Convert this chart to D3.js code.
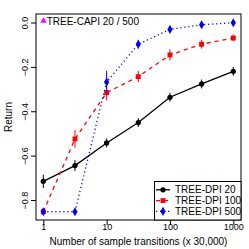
<!DOCTYPE html>
<html><head><meta charset="utf-8">
<script src="https://cdn.jsdelivr.net/npm/d3@7"></script>
<style>body{margin:0;background:#fff}svg{display:block}text{font-family:"Liberation Sans",Arial,sans-serif;fill:#000}</style>
</head><body>
<svg id="c" width="249" height="249"></svg>
<script>
const xVals = [1, 3.162, 10, 31.62, 100, 316.2, 1000];
const dpi20 = [-0.716, -0.645, -0.543, -0.451, -0.337, -0.277, -0.220];
const dpi20Err = [0.03, 0.025, 0.02, 0.02, 0.02, 0.02, 0.02];
const dpi100 = [-0.853, -0.525, -0.316, -0.244, -0.146, -0.098, -0.070];
const dpi100Err = [0.01, 0.04, 0.035, 0.025, 0.025, 0.02, 0.015];
const dpi500 = [-0.853, -0.853, -0.268, -0.098, -0.031, -0.010, -0.001];
const dpi500Err = [0.005, 0.005, 0.05, 0.02, 0.01, 0.01, 0.01];
const xTicks = [1, 10, 100, 1000];
const yTicks = [0, -0.2, -0.4, -0.6, -0.8];
const seriesNames = ["TREE-DPI 20", "TREE-DPI 100", "TREE-DPI 500"];
const capiLabel = "TREE-CAPI 20 / 500";

const svg = d3.select("#c");
const box = {l:36, r:241, t:14, b:220};
const x = d3.scaleLog().domain([1,1000]).range([43.3,233.3]);
const y = d3.scaleLinear().domain([0,-0.8]).range([22.5,200]);
const fmt = v => (v===0?"0.0":d3.format(".1f")(v)).replace("-","\u2212");
const tickFS = 9, labFS = 10, legFS = 10;

const series = [
  {name:seriesNames[0], v:dpi20, e:dpi20Err, color:"#000000", dash:null, shape:"circle"},
  {name:seriesNames[1], v:dpi100, e:dpi100Err, color:"#FF0000", dash:"4,4", shape:"square"},
  {name:seriesNames[2], v:dpi500, e:dpi500Err, color:"#0000FF", dash:"1.2,2.8", shape:"diamond"}
];
const sym = {circle:d3.symbol(d3.symbolCircle,22), square:d3.symbol(d3.symbolSquare,24), diamond:d3.symbol(d3.symbolDiamond,24)};

// axes
const xa = svg.append("g").attr("transform",`translate(0,${box.b})`)
  .call(d3.axisBottom(x).tickValues(xTicks).tickFormat(d=>String(d)).tickSize(5).tickPadding(-1));
xa.select(".domain").remove();
xa.selectAll("text").attr("font-size",tickFS).attr("fill","#000");
xa.selectAll("line").attr("stroke","#000");
const ya = svg.append("g").attr("transform",`translate(${box.l},0)`)
  .call(d3.axisLeft(y).tickValues(yTicks).tickFormat(fmt).tickSize(5).tickPadding(0));
ya.select(".domain").remove();
ya.selectAll("line").attr("stroke","#000");
ya.selectAll("text").attr("font-size",tickFS).attr("fill","#000")
  .attr("text-anchor","middle").attr("dy",0).attr("x",0)
  .attr("transform","translate(-8.5,0) rotate(-90)");

// series
series.forEach(s=>{
  const line = d3.line().x((d,i)=>x(xVals[i])).y(d=>y(d));
  svg.append("path").datum(s.v).attr("d",line).attr("fill","none")
    .attr("stroke",s.color).attr("stroke-width",1.3)
    .attr("stroke-dasharray",s.dash);
  s.v.forEach((v,i)=>{
    svg.append("line").attr("x1",x(xVals[i])).attr("x2",x(xVals[i]))
      .attr("y1",y(v-s.e[i])).attr("y2",y(v+s.e[i])).attr("stroke",s.color).attr("stroke-width",1);
    svg.append("path").attr("d",sym[s.shape]()).attr("fill",s.color)
      .attr("transform",`translate(${x(xVals[i])},${y(v)})`);
  });
});

// box
svg.append("rect").attr("x",box.l).attr("y",box.t).attr("width",box.r-box.l).attr("height",box.b-box.t)
  .attr("fill","none").attr("stroke","#000").attr("stroke-width",1);

// titles
svg.append("text").attr("x",(box.l+box.r)/2).attr("y",244.5).attr("text-anchor","middle")
  .attr("font-size",labFS).text("Number of sample transitions (x 30,000)");
svg.append("text").attr("transform",`translate(12,${(box.t+box.b)/2}) rotate(-90)`)
  .attr("text-anchor","middle").attr("font-size",labFS).text("Return");

// CAPI legend
svg.append("path").attr("d",d3.symbol(d3.symbolTriangle,18)()).attr("fill","#FF00FF")
  .attr("transform","translate(43.5,21)");
svg.append("text").attr("x",46.7).attr("y",25).attr("font-size",legFS).text(capiLabel);

// legend
const lg = svg.append("g");
lg.append("rect").attr("x",154.5).attr("y",181.5).attr("width",box.r-154.5).attr("height",box.b-181.5)
  .attr("fill","#fff").attr("stroke","#000").attr("stroke-width",1);
series.forEach((s,i)=>{
  const yy = 189.8+i*10.8;
  lg.append("line").attr("x1",156).attr("x2",170).attr("y1",yy).attr("y2",yy)
    .attr("stroke",s.color).attr("stroke-width",1.3).attr("stroke-dasharray",s.dash);
  lg.append("path").attr("d",sym[s.shape]()).attr("fill",s.color).attr("transform",`translate(163,${yy})`);
  lg.append("text").attr("x",175).attr("y",yy+3.5).attr("font-size",legFS).text(s.name);
});
</script>
</body></html>
